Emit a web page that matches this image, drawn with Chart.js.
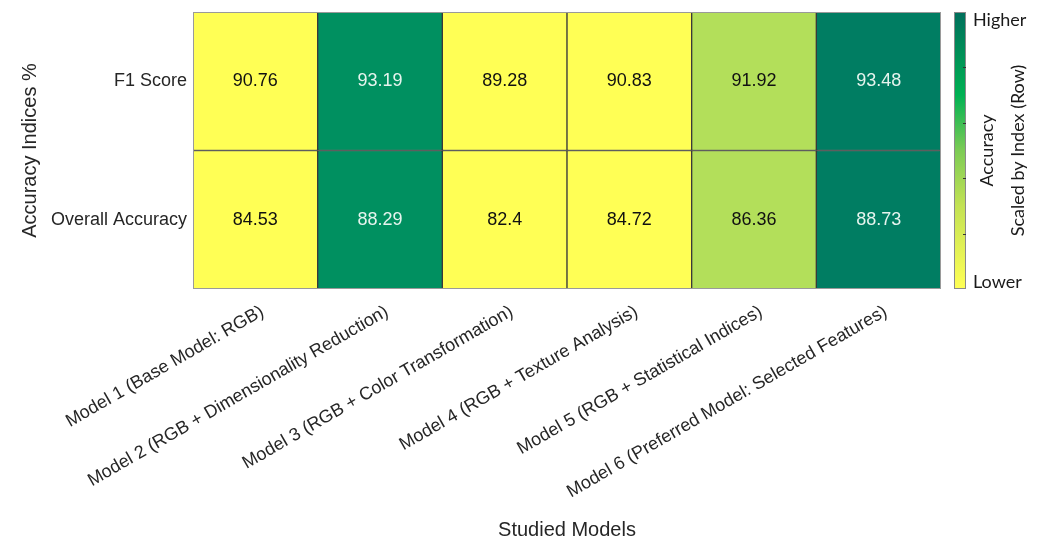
<!DOCTYPE html>
<html>
<head>
<meta charset="utf-8">
<script src="https://cdn.jsdelivr.net/npm/chart.js@4.4.1/dist/chart.umd.min.js"></script>
<style>
  html, body { margin: 0; padding: 0; background: #fff; }
  canvas { display: block; }
</style>
</head>
<body>
<canvas id="heatmap" width="1045" height="545"></canvas>
<script>
(function(){
const models = [
    'Model 1 (Base Model: RGB)',
    'Model 2 (RGB + Dimensionality Reduction)',
    'Model 3 (RGB + Color Transformation)',
    'Model 4 (RGB + Texture Analysis)',
    'Model 5 (RGB + Statistical Indices)',
    'Model 6 (Preferred Model: Selected Features)'
];
const rowLabels = ['F1 Score', 'Overall Accuracy'];
const f1Score = [90.76, 93.19, 89.28, 90.83, 91.92, 93.48];
const overallAccuracy = [84.53, 88.29, 82.4, 84.72, 86.36, 88.73];
const rows = [f1Score, overallAccuracy];

// colour by rank inside each row (lowest -> highest)
const rankColors = ['#ffff55', '#ffff55', '#ffff55', '#b3df5a', '#009060', '#007d62'];
const rankText = ['#111', '#111', '#111', '#111', '#e6f4ee', '#e6f4ee'];

function ranks(values) {
    const sorted = values.slice().sort((a, b) => a - b);
    return values.map((v) => sorted.indexOf(v));
}

const fontFamily = "'Liberation Sans', Arial, sans-serif";

const datasets = rows.map((values, r) => {
    const lo = rows.length - r - 1;
    const rk = ranks(values);
    return {
        label: rowLabels[r],
        data: models.map(() => [lo, lo + 1]),
        values: values,
        backgroundColor: rk.map((k) => rankColors[k]),
        textColors: rk.map((k) => rankText[k]),
        borderColor: '#3a3a3a',
        borderWidth: 1,
        borderSkipped: false,
        grouped: false,
        barPercentage: 1,
        categoryPercentage: 1
    };
});

const cellText = {
    id: 'cellText',
    afterDatasetsDraw(chart) {
        const ctx = chart.ctx;
        ctx.save();
        ctx.font = '18px ' + fontFamily;
        ctx.textAlign = 'center';
        ctx.textBaseline = 'middle';
        chart.data.datasets.forEach((ds, i) => {
            chart.getDatasetMeta(i).data.forEach((bar, j) => {
                const p = bar.getProps(['x', 'y', 'base'], true);
                ctx.fillStyle = ds.textColors[j];
                ctx.fillText(String(ds.values[j]), p.x, (p.y + p.base) / 2);
            });
        });
        // outer frame
        const a = chart.chartArea;
        ctx.strokeStyle = '#9a9a9a';
        ctx.lineWidth = 1;
        ctx.strokeRect(a.left + 0.5, a.top + 0.5, a.right - a.left - 1, a.bottom - a.top - 1);
        ctx.restore();
    }
};

const colorBar = {
    id: 'colorBar',
    afterDraw(chart) {
        const ctx = chart.ctx;
        const a = chart.chartArea;
        const x = a.right + 13;
        const w = 12;
        const top = a.top;
        const bottom = a.bottom;
        ctx.save();
        const g = ctx.createLinearGradient(0, bottom, 0, top);
        g.addColorStop(0, '#ffff55');
        g.addColorStop(0.3, '#c3e254');
        g.addColorStop(0.5, '#7ccb55');
        g.addColorStop(0.7, '#00b153');
        g.addColorStop(1, '#006f5c');
        ctx.fillStyle = g;
        ctx.fillRect(x, top, w, bottom - top);
        ctx.strokeStyle = '#8a8a8a';
        ctx.lineWidth = 1;
        ctx.strokeRect(x + 0.5, top + 0.5, w - 1, bottom - top - 1);
        ctx.strokeStyle = '#333';
        for (let i = 1; i < 5; i++) {
            const y = Math.round(bottom - (bottom - top) * i / 5) + 0.5;
            ctx.beginPath();
            ctx.moveTo(x + w - 3, y);
            ctx.lineTo(x + w, y);
            ctx.stroke();
        }
        ctx.fillStyle = '#1a1a1a';
        ctx.font = "18px Lato, 'Open Sans', sans-serif";
        ctx.textAlign = 'left';
        ctx.textBaseline = 'middle';
        ctx.fillText('Higher', x + w + 7, top + 8);
        ctx.fillText('Lower', x + w + 7, bottom - 7);
        ctx.textAlign = 'center';
        ctx.translate(x + w + 21, (top + bottom) / 2);
        ctx.rotate(-Math.PI / 2);
        ctx.fillText('Accuracy', 0, 0);
        ctx.fillText('Scaled by Index (Row)', 0, 31);
        ctx.restore();
    }
};

new Chart(document.getElementById('heatmap'), {
    type: 'bar',
    data: { labels: models, datasets: datasets },
    plugins: [cellText, colorBar],
    options: {
        responsive: false,
        animation: false,
        devicePixelRatio: 1,
        layout: { padding: { top: 12, right: 104, left: 0, bottom: 0 } },
        plugins: { legend: { display: false }, tooltip: { enabled: false } },
        scales: {
            x: {
                grid: { display: false, drawTicks: false },
                border: { display: false },
                ticks: {
                    color: '#262626',
                    font: { family: fontFamily, size: 18 },
                    minRotation: 30,
                    maxRotation: 30,
                    padding: 12,
                    labelOffset: 7,
                    autoSkip: false
                },
                title: {
                    display: true,
                    text: 'Studied Models',
                    color: '#262626',
                    font: { family: fontFamily, size: 20 },
                    padding: { top: 3, bottom: 3 }
                },
                afterFit(scale) {
                    scale.height = 256;
                    scale.paddingLeft = 0;
                    scale.paddingRight = 0;
                }
            },
            y: {
                min: 0,
                max: rows.length,
                grid: { display: false, drawTicks: false },
                border: { display: false },
                afterBuildTicks(scale) {
                    scale.ticks = rowLabels.map((_, i) => ({ value: rows.length - i - 0.5 }));
                },
                ticks: {
                    color: '#262626',
                    font: { family: fontFamily, size: 18 },
                    padding: 6,
                    callback: (v) => rowLabels[rows.length - 0.5 - v]
                },
                title: {
                    display: true,
                    text: 'Accuracy Indices %',
                    color: '#262626',
                    font: { family: fontFamily, size: 20 },
                    padding: { top: 18, bottom: 0 }
                },
                afterFit(scale) {
                    scale.width = 193;
                    scale.paddingTop = 0;
                    scale.paddingBottom = 0;
                }
            }
        }
    }
});
}());
</script>
</body>
</html>
